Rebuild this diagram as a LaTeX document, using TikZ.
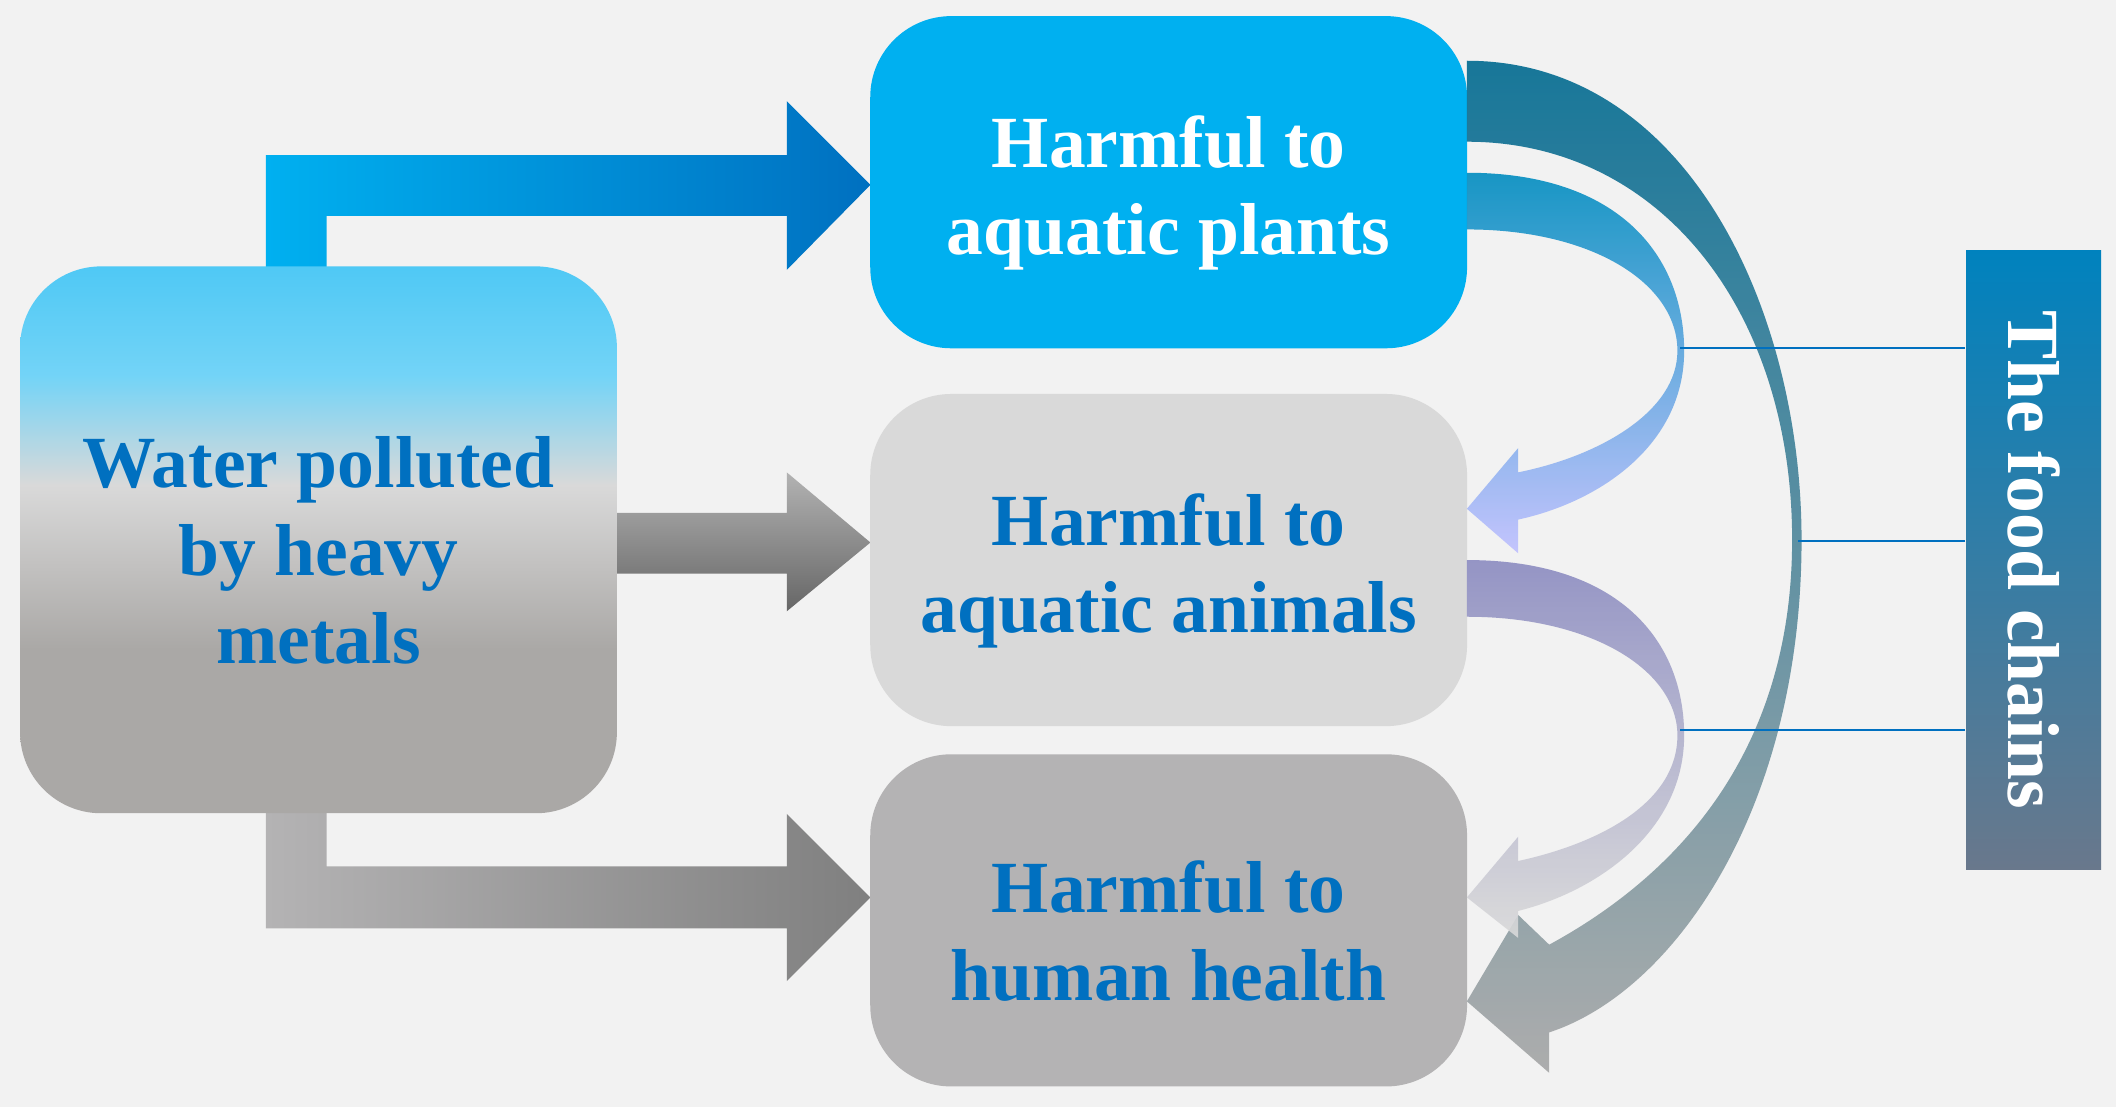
\documentclass[tikz,border=0pt]{standalone}
\usepackage{fontspec}
\setmainfont{Liberation Serif}
\definecolor{cyanb}{RGB}{0,176,240}
\definecolor{dblue}{RGB}{0,112,192}
\definecolor{lgray}{RGB}{217,217,217}
\definecolor{mgray}{RGB}{180,179,180}
\definecolor{bgc}{RGB}{242,242,242}
\definecolor{bgray}{RGB}{170,168,166}
\definecolor{bartop}{RGB}{0,130,190}
\definecolor{barbot}{RGB}{105,120,140}
\pgfdeclareverticalshading{leftshade}{100bp}{color(0bp)=(bgray);color(40bp)=(bgray);color(55bp)=(lgray);color(65bp)=(cyanb!55!white);color(90bp)=(cyanb!90!white);color(100bp)=(cyanb)}
\begin{document}
\begin{tikzpicture}[x=0.01cm,y=-0.01cm,
  box/.style={rounded corners=0.6cm,inner sep=0pt,align=center,font=\fontsize{15.5}{18.5}\selectfont\bfseries},
  ]
\fill[bgc] (0,0) rectangle (1568,820);
\useasboundingbox (0,0) rectangle (1568,820);
% arrows from left box
\shade[left color=cyanb,right color=dblue] (197,200) -- (197,115) -- (583,115) -- (583,75) -- (645,137) -- (583,200) -- (583,160) -- (242,160) -- (242,200) -- cycle;
\shade[top color=gray!60,bottom color=gray!80!black] (457,380) -- (583,380) -- (583,350) -- (645,402) -- (583,453) -- (583,425) -- (457,425) -- cycle;
\shade[left color=mgray,right color=gray] (197,600) -- (197,688) -- (583,688) -- (583,727) -- (645,665) -- (583,603) -- (583,642) -- (242,642) -- (242,600) -- cycle;
% boxes
\node[box,minimum width=4.42cm,minimum height=4.05cm,shading=leftshade,text=dblue] (src) at (236,400) {};
\node[box,text=dblue] (srct) at (236,408) {Water polluted\\by heavy\\metals};
\node[box,minimum width=4.42cm,minimum height=2.46cm,fill=cyanb] (plants) at (866,135) {};
\node[box,text=white] (plantst) at (866,143) {Harmful to\\aquatic plants};
\node[box,minimum width=4.42cm,minimum height=2.46cm,fill=lgray] (animals) at (866,415) {};
\node[box,text=dblue] (animalst) at (866,423) {Harmful to\\aquatic animals};
\node[box,minimum width=4.42cm,minimum height=2.46cm,fill=mgray] (human) at (866,682) {};
\node[box,text=dblue] (humant) at (866,690) {Harmful to\\human health};
\node[minimum width=1cm,minimum height=4.58cm,inner sep=0pt,top color=bartop,bottom color=barbot] (bar) at (1507,415) {};
\node[rotate=-90,text=white,font=\fontsize{15.5}{18.5}\selectfont\bfseries] (bartxt) at (bar.center) {The food chains};
% big curve
\shade[top color=cyanb!60!black,bottom color=gray!70,opacity=0.9] (1087,45) .. controls (1250,45) and (1335,230) .. (1335,400) .. controls (1335,600) and (1240,735) .. (1148,765) -- (1148,795) -- (1087,742) -- (1125,678) -- (1148,700) .. controls (1240,650) and (1328,560) .. (1328,400) .. controls (1328,230) and (1230,105) .. (1087,105) -- cycle;
% small curve 1
\shade[top color=cyanb!80!black,bottom color=blue!25,opacity=0.9] (1087,128) .. controls (1200,128) and (1248,190) .. (1248,260) .. controls (1248,330) and (1185,372) .. (1125,385) -- (1125,410) -- (1087,377) -- (1125,332) -- (1125,350) .. controls (1185,338) and (1243,305) .. (1243,260) .. controls (1243,210) and (1180,170) .. (1087,170) -- cycle;
% small curve 2
\shade[top color=blue!30!gray!70,bottom color=lgray,opacity=0.9] (1087,415) .. controls (1200,415) and (1248,475) .. (1248,545) .. controls (1248,615) and (1185,660) .. (1125,675) -- (1125,695) -- (1087,665) -- (1125,620) -- (1125,638) .. controls (1185,625) and (1243,595) .. (1243,545) .. controls (1243,497) and (1180,457) .. (1087,457) -- cycle;
% thin lines
\draw[dblue,line width=0.5pt] (bar.west |- 0,258) -- (1245,258);
\draw[dblue,line width=0.5pt] (bar.west |- 0,401) -- (1332,401);
\draw[dblue,line width=0.5pt] (bar.west |- 0,541) -- (1245,541);
\end{tikzpicture}
\end{document}
